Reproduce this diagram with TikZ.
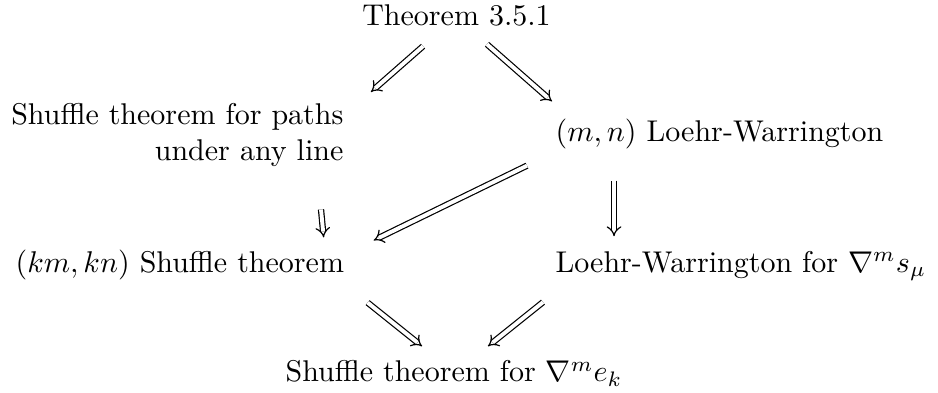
\documentclass[tikz,border=0pt]{standalone}
\usepackage{amsmath}
\usepackage{amssymb}
\usepackage{tikz}
\usetikzlibrary{positioning,arrows.meta,calc}

\begin{document}
\begin{tikzpicture}[
  stmt/.style={inner sep=0pt},
  impl/.style={double,double distance=1.3pt,line width=0.4pt,-{Implies}}
]
\useasboundingbox (0,0) rectangle (10.987,4.603);
\node[stmt,anchor=base] (thm) at (5.347,4.310) {Theorem 3.5.1};
\node[stmt,anchor=north east,align=right] (paths) at (4.029,3.397) {Shuffle theorem for paths\\under any line};
\node[stmt,anchor=base west] (mn) at (6.501,2.940) {$(m,n)$ Loehr-Warrington};
\node[stmt,anchor=base west] (kmkn) at (0.176,1.417) {$(km,kn)$ Shuffle theorem};
\node[stmt,anchor=base west] (lw) at (6.501,1.417) {Loehr-Warrington for $\nabla^m s_\mu$};
\node[stmt,anchor=base west] (bot) at (3.338,0.129) {Shuffle theorem for $\nabla^m e_k$};
% implications
\draw[impl] ($(thm.south)+(-0.392,-0.234)$) -- ($(paths.north east)+(0.316,0.129)$);
\draw[impl] ($(thm.south)+(0.357,-0.211)$) -- ($(mn.north west)+(-0.035,0.205)$);
\draw[impl] ($(paths.south east)+(-0.269,-0.492)$) -- ($(kmkn.north east)+(-0.246,0.135)$);
\draw[impl] ($(mn.south west)+(-0.328,-0.182)$) -- ($(kmkn.north east)+(0.340,0.100)$);
\draw[impl] ($(mn.south west)+(0.691,-0.357)$) -- ($(lw.north west)+(0.691,0.164)$);
\draw[impl] ($(kmkn.south east)+(0.269,-0.264)$) -- ($(bot.north west)+(1.605,0.164)$);
\draw[impl] ($(lw.south west)+(-0.141,-0.246)$) -- ($(bot.north west)+(2.378,0.164)$);
\end{tikzpicture}
\end{document}
